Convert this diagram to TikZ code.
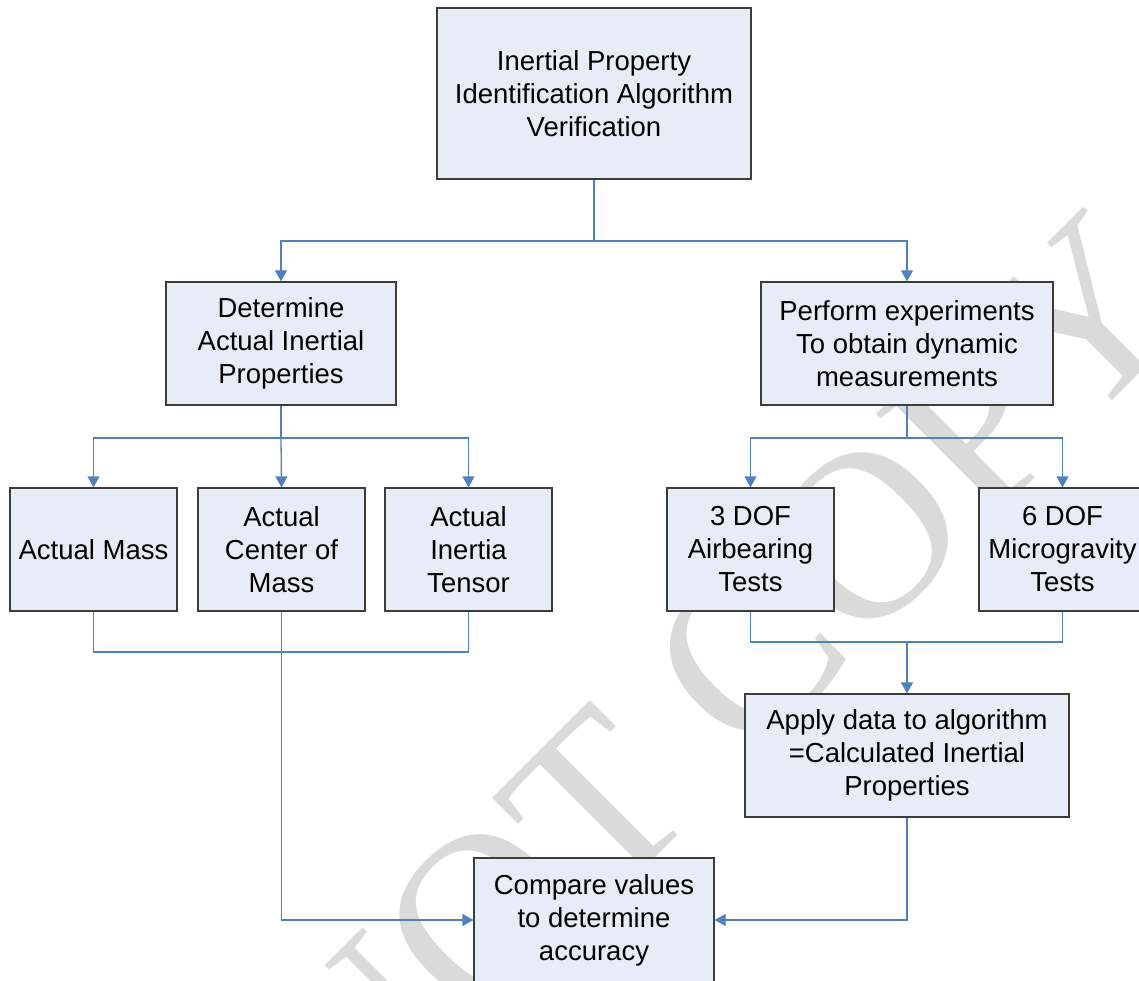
\documentclass[tikz,border=0pt]{standalone}
\usepackage{fontspec}
\setmainfont{Liberation Sans}
\newfontfamily\wmfont{Liberation Serif}
\usetikzlibrary{arrows.meta}
\definecolor{boxfill}{RGB}{231,237,247}
\definecolor{boxline}{RGB}{60,60,60}
\definecolor{conncol}{RGB}{79,129,189}
\definecolor{wmcol}{RGB}{218,218,218}
\tikzset{
  box/.style={draw=boxline, line width=1.3pt, fill=boxfill, rectangle, inner sep=0pt,
    minimum height=123pt, align=center, font=\fontsize{27.5pt}{33pt}\selectfont},
  conn/.style={draw=conncol, line width=1.3pt},
  arr/.style={conn, -{Triangle[width=12pt,length=11pt]}},
}
\begin{document}
\begin{tikzpicture}[x=1pt,y=1pt]
\useasboundingbox (0,0) rectangle (1139,-981);
% watermark
\node[rotate=45, text=wmcol, font=\wmfont\fontsize{240pt}{240pt}\selectfont, inner sep=0pt] (wm) at (722,-680) {NOT COPY};
% boxes
\node[box, minimum width=314pt, minimum height=171pt] (top) at (594,-93.5) {Inertial Property\\Identification Algorithm\\Verification};
\node[box, minimum width=230pt] (det) at (281,-343.5) {Determine\\Actual Inertial\\Properties};
\node[box, minimum width=292pt] (perf) at (907,-343.5) {Perform experiments\\To obtain dynamic\\measurements};
\node[box, minimum width=167pt] (mass) at (93.5,-549.5) {Actual Mass};
\node[box, minimum width=167pt] (com) at (281.5,-549.5) {Actual\\Center of\\Mass};
\node[box, minimum width=167pt] (ten) at (468.5,-549.5) {Actual\\Inertia\\Tensor};
\node[box, minimum width=167pt] (dof3) at (750.5,-549.5) {3 DOF\\Airbearing\\Tests};
\node[box, minimum width=167pt] (dof6) at (1062.5,-549.5) {6 DOF\\Microgravity\\Tests};
\node[box, minimum width=324pt] (apply) at (907,-755.5) {Apply data to algorithm\\=Calculated Inertial\\Properties};
\node[box, minimum width=240pt, minimum height=124pt] (cmp) at (594,-920) {Compare values\\to determine\\accuracy};
% connectors
\coordinate (j1) at (594,-241);
\draw[conn] (top.south) -- (j1);
\draw[arr] (j1) -| (det.north);
\draw[arr] (j1) -| (perf.north);
\coordinate (j2) at (281,-438);
\draw[conn] (det.south) -- (j2);
\draw[arr] (j2) -| (mass.north);
\draw[arr] (j2) -- (com.north);
\draw[arr] (j2) -| (ten.north);
\coordinate (j3) at (907,-438);
\draw[conn] (perf.south) -- (j3);
\draw[arr] (j3) -| (dof3.north);
\draw[arr] (j3) -| (dof6.north);
\coordinate (b1) at (93.5,-652);
\draw[conn] (mass.south) -- (b1) -| (ten.south);
\coordinate (b2) at (750.5,-642);
\coordinate (j4) at (907,-642);
\draw[conn] (dof3.south) -- (b2) -| (dof6.south);
\draw[arr] (j4) -- (apply.north);
\draw[arr] (com.south) |- (cmp.west);
\draw[arr] (apply.south) |- (cmp.east);
\end{tikzpicture}
\end{document}
